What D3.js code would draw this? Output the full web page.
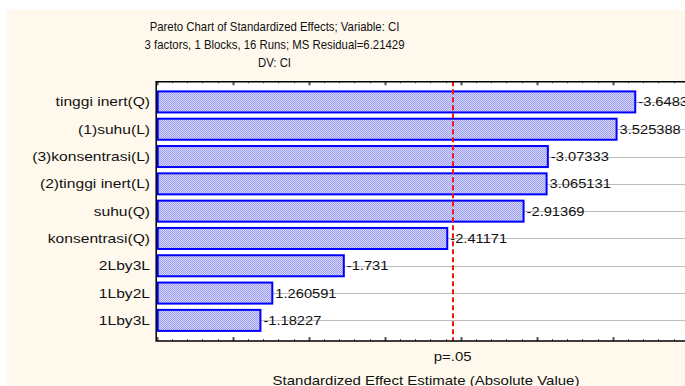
<!DOCTYPE html>
<html>
<head>
<meta charset="utf-8">
<script src="https://cdn.jsdelivr.net/npm/d3@7"></script>
<style>
  body { margin: 0; background: #fff; }
  svg { display: block; font-family: 'Liberation Sans', Arial, sans-serif; }
</style>
</head>
<body>
<svg id="chart"></svg>
<script>
var terms = ['tinggi inert(Q)', '(1)suhu(L)', '(3)konsentrasi(L)', '(2)tinggi inert(L)',
  'suhu(Q)', 'konsentrasi(Q)', '2Lby3L', '1Lby2L', '1Lby3L']
var effects = [-3.6483, 3.525388, -3.07333, 3.065131, -2.91369, -2.41171, -1.731, 1.260591, -1.18227]
var pCrit = 2.4469
var titleLines = ['Pareto Chart of Standardized Effects; Variable: CI',
  '3 factors, 1 Blocks, 16 Runs; MS Residual=6.21429', 'DV: CI']

var width = 685
var height = 386
var plotLeft = 156.7
var plotRight = 688.7
var plotTop = 81.3
var plotBottom = 341

var svg = d3.select('#chart')
  .attr('width', width)
  .attr('height', height)

// text with a horizontal stretch, the old renderer draws wider/narrower glyphs
function label (g, tx, ty, str, size, sx, anchor) {
  return g.append('text')
    .attr('transform', 'translate(' + tx + ',' + ty + ') scale(' + sx + ',1)')
    .attr('text-anchor', anchor || 'start')
    .attr('font-size', size)
    .attr('fill', '#111')
    .text(str)
}

// pattern for the dithered bar fill
var defs = svg.append('defs')
var pat = defs.append('pattern')
  .attr('id', 'dither')
  .attr('width', 2).attr('height', 2)
  .attr('patternUnits', 'userSpaceOnUse')
pat.append('rect').attr('width', 2).attr('height', 2).attr('fill', '#d4d4fb')
pat.append('rect').attr('width', 1).attr('height', 1).attr('fill', '#a0a0f0')
pat.append('rect').attr('x', 1).attr('y', 1).attr('width', 1).attr('height', 1).attr('fill', '#a0a0f0')

svg.append('rect')
  .attr('x', 7).attr('y', 10)
  .attr('width', width).attr('height', height)
  .attr('fill', '#fff9ed')

var x = d3.scaleLinear()
  .domain([0.5, 4])
  .range([plotLeft, plotRight])
var y = d3.scaleBand()
  .domain(terms)
  .range([plotTop, plotBottom])
  .paddingInner(0.23)
  .paddingOuter(0.37)

function mid (d) { return Math.round(y(d) + y.bandwidth() / 2) + 0.5 }

svg.append('rect')
  .attr('x', plotLeft).attr('y', plotTop)
  .attr('width', plotRight - plotLeft).attr('height', plotBottom - plotTop)
  .attr('fill', '#fff')

// grid lines at each term
svg.append('g').selectAll('line')
  .data(terms)
  .enter().append('line')
  .attr('x1', plotLeft).attr('x2', plotRight)
  .attr('y1', mid)
  .attr('y2', mid)
  .attr('stroke', '#bdbdbd')
  .attr('stroke-width', 1)

// ticks, top and bottom
var minor = d3.range(0.5, 4.01, 0.1)
var tickG = svg.append('g').attr('stroke', '#555')
minor.forEach(function (v) {
  var isMajor = Math.abs(v * 2 - Math.round(v * 2)) < 1e-6
  var len = isMajor ? 4 : 2
  var xx = Math.round(x(v)) + 0.5
  tickG.append('line').attr('x1', xx).attr('x2', xx)
    .attr('y1', plotTop).attr('y2', plotTop + len)
    .attr('stroke-width', isMajor ? 2 : 1)
  tickG.append('line').attr('x1', xx).attr('x2', xx)
    .attr('y1', plotBottom).attr('y2', plotBottom - len)
    .attr('stroke-width', isMajor ? 2 : 1)
})
terms.forEach(function (d) {
  tickG.append('line').attr('x1', plotLeft).attr('x2', plotLeft + 3)
    .attr('y1', mid(d)).attr('y2', mid(d))
})

svg.append('g').selectAll('rect')
  .data(effects)
  .enter().append('rect')
  .attr('x', plotLeft + 1)
  .attr('y', function (d, i) { return y(terms[i]) })
  .attr('width', function (d) { return x(Math.abs(d)) - plotLeft - 1 })
  .attr('height', y.bandwidth())
  .attr('fill', 'url(#dither)')
  .attr('stroke', '#0000ff')
  .attr('stroke-width', 2)

var valG = svg.append('g')
effects.forEach(function (d, i) {
  label(valG, x(Math.abs(d)) + 3, y(terms[i]) + y.bandwidth() / 2 + 4.5, String(d), 13, 1.13)
})

var termG = svg.append('g')
terms.forEach(function (d) {
  label(termG, 150, y(d) + y.bandwidth() / 2 + 4.5, d, 13, 1.2, 'end')
})

// p=.05 line
svg.append('line')
  .attr('x1', Math.round(x(pCrit))).attr('x2', Math.round(x(pCrit)))
  .attr('y1', plotTop).attr('y2', plotBottom)
  .attr('stroke', '#ff1010')
  .attr('stroke-width', 2)
  .attr('stroke-dasharray', '5,3')

// frame
svg.append('path')
  .attr('d', 'M' + (plotRight + 1) + ',' + (plotTop + 0.5) + 'H' + (plotLeft - 0.5) + 'V' + plotBottom + 'H' + (plotRight + 1))
  .attr('fill', 'none')
  .attr('stroke', '#000')
  .attr('stroke-width', 1.5)

label(svg, x(pCrit), 361, 'p=.05', 12.5, 1.2, 'middle')
label(svg, 426, 385, 'Standardized Effect Estimate (Absolute Value)', 12.5, 1.2, 'middle')

titleLines.forEach(function (d, i) {
  label(svg, 274.5, 31 + i * 18, d, 12.5, 0.91, 'middle')
})
</script>
</body>
</html>
